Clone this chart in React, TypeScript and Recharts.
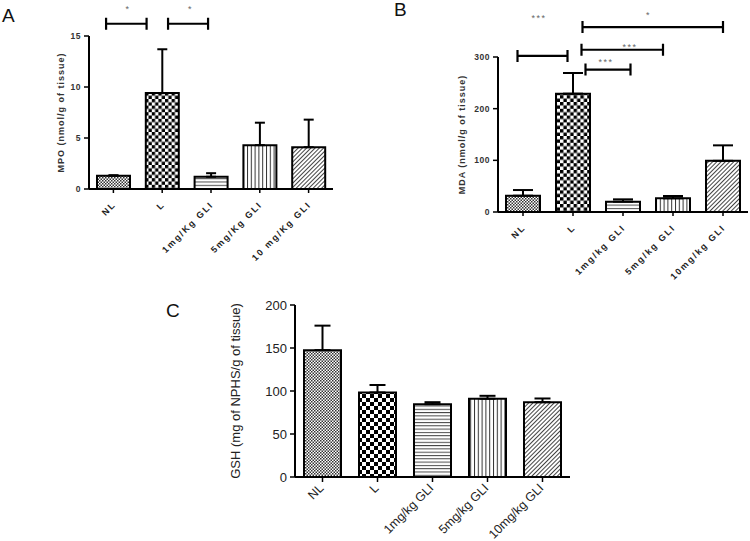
import React from "react";
import {
  BarChart,
  Bar,
  XAxis,
  YAxis,
  ErrorBar,
  Cell,
  ReferenceLine,
  ReferenceDot,
  Label,
} from "recharts";

// A - MPO
const mpoGroups = ["NL", "L", "1mg/Kg GLI", "5mg/Kg GLI", "10 mg/Kg GLI"];
const mpoMean = [1.3, 9.4, 1.2, 4.3, 4.1];
const mpoErr = [0.05, 4.3, 0.35, 2.2, 2.7];
const mpoTicks = [0, 5, 10, 15];

// B - MDA
const mdaGroups = ["NL", "L", "1mg/kg GLI", "5mg/kg GLI", "10mg/kg GLI"];
const mdaMean = [31.5, 229, 20, 26.5, 99];
const mdaErr = [11, 40, 4.5, 4.5, 30];
const mdaTicks = [0, 100, 200, 300];

// C - GSH
const gshGroups = ["NL", "L", "1mg/kg GLI", "5mg/kg GLI", "10mg/kg GLI"];
const gshMean = [147.5, 98.3, 84.7, 91, 87];
const gshErr = [28.5, 8.7, 2.3, 3.4, 4.3];
const gshTicks = [0, 50, 100, 150, 200];

// significance brackets, x in group-index units
const mpoBrackets = [
  { from: -0.15, to: 0.68, y: 16.2 },
  { from: 1.12, to: 1.94, y: 16.2 },
];
const mpoStars = [
  { x: 0.3, y: 17.4, text: "*" },
  { x: 1.58, y: 17.4, text: "*" },
];
const mdaBrackets = [
  { from: -0.11, to: 0.89, y: 302 },
  { from: 1.19, to: 4.0, y: 358 },
  { from: 1.17, to: 2.8, y: 314 },
  { from: 1.25, to: 2.15, y: 275.6 },
];
const mdaStars = [
  { x: 0.32, y: 369, text: "***" },
  { x: 2.51, y: 376, text: "*" },
  { x: 2.14, y: 313, text: "***" },
  { x: 1.66, y: 284, text: "***" },
];

const fills = ["dots", "checker", "hlines", "vlines", "diag"];
const FONT = "Arial, 'Liberation Sans', sans-serif";

type Bracket = { from: number; to: number; y: number };
type Star = { x: number; y: number; text: string };

type PanelProps = {
  id: string;
  groups: string[];
  mean: number[];
  err: number[];
  yTicks: number[];
  yTitle: string;
  width: number;
  height: number;
  margin: { top: number; right: number; bottom: number; left: number };
  yWidth: number;
  xHeight: number;
  titleDx: number;
  barSize: number;
  cap: number;
  big?: boolean;
  checker: number;
  brackets?: Bracket[];
  stars?: Star[];
};

function Panel(p: PanelProps) {
  const data = p.groups.map((g, i) => ({ idx: i, group: g, mean: p.mean[i], err: [0, p.err[i]] }));
  const xFont = p.big
    ? { fontSize: 12.5, fontWeight: 400, fill: "#222", letterSpacing: 0 }
    : { fontSize: 9, fontWeight: 700, fill: "#222", letterSpacing: 1.8 };
  const yFont = p.big
    ? { fontSize: 13, fontWeight: 400, fill: "#222" }
    : { fontSize: 8.5, fontWeight: 700, fill: "#333", letterSpacing: 0.5 };
  const c = p.checker;

  const slantTick = (props: any) => {
    const { x, y, payload } = props;
    return (
      <g transform={`translate(${x + (p.big ? -1 : 1)},${y + (p.big ? 2 : 8)})`}>
        <text transform="rotate(-45)" textAnchor="end" dominantBaseline="central" fontFamily={FONT} {...xFont}>
          {payload.value}
        </text>
      </g>
    );
  };

  const yTitle = (lp: any) => {
    const vb = lp.viewBox;
    const cx = vb.x + vb.width / 2 + p.titleDx;
    const cy = vb.y + vb.height / 2;
    return (
      <text
        x={cx}
        y={cy}
        transform={`rotate(-90 ${cx} ${cy})`}
        textAnchor="middle"
        dominantBaseline="central"
        fontFamily={FONT}
        fontSize={p.big ? 13 : 9}
        fontWeight={p.big ? 400 : 700}
        letterSpacing={p.big ? 0 : 1}
        fill={p.big ? "#222" : "#333"}
      >
        {p.yTitle}
      </text>
    );
  };

  return (
    <BarChart width={p.width} height={p.height} data={data} margin={p.margin}>
      <defs>
        <pattern id={`${p.id}-dots`} width={3} height={3} patternUnits="userSpaceOnUse">
          <rect width={3} height={3} fill="#fff" />
          <rect width={1.5} height={1.5} fill="#333" />
          <rect x={1.5} y={1.5} width={1.5} height={1.5} fill="#333" />
        </pattern>
        <pattern id={`${p.id}-checker`} width={c * 2} height={c * 2} patternUnits="userSpaceOnUse">
          <rect width={c * 2} height={c * 2} fill="#fff" />
          <rect width={c} height={c} fill="#000" />
          <rect x={c} y={c} width={c} height={c} fill="#000" />
        </pattern>
        <pattern id={`${p.id}-hlines`} width={4} height={3.3} patternUnits="userSpaceOnUse">
          <rect width={4} height={3.3} fill="#fff" />
          <rect width={4} height={1} fill="#444" />
        </pattern>
        <pattern id={`${p.id}-vlines`} width={3.8} height={4} patternUnits="userSpaceOnUse">
          <rect width={3.8} height={4} fill="#fff" />
          <rect width={1} height={4} fill="#333" />
        </pattern>
        <pattern id={`${p.id}-diag`} width={3} height={3} patternUnits="userSpaceOnUse" patternTransform="rotate(45)">
          <rect width={3} height={3} fill="#fff" />
          <rect width={1} height={3} fill="#444" />
        </pattern>
      </defs>
      <XAxis
        dataKey="group"
        type="category"
        height={p.xHeight}
        interval={0}
        tick={slantTick}
        tickSize={p.big ? 5 : 4}
        tickMargin={2}
        tickLine={{ stroke: "#000", strokeWidth: 1.5 }}
        axisLine={{ stroke: "#000", strokeWidth: 2 }}
      />
      <XAxis xAxisId="ann" dataKey="idx" type="number" domain={[-0.5, 4.5]} allowDataOverflow hide />
      <YAxis
        domain={[0, p.yTicks[p.yTicks.length - 1]]}
        ticks={p.yTicks}
        width={p.yWidth}
        tickSize={5}
        tickMargin={3}
        tick={{ ...yFont, fontFamily: FONT }}
        tickLine={{ stroke: "#000", strokeWidth: 1.5 }}
        axisLine={{ stroke: "#000", strokeWidth: 2 }}
      >
        <Label content={yTitle} />
      </YAxis>
      <Bar dataKey="mean" barSize={p.barSize} stroke="#000" strokeWidth={2} isAnimationActive={false}>
        {data.map((d, i) => (
          <Cell key={d.group} fill={`url(#${p.id}-${fills[i]})`} />
        ))}
        <ErrorBar dataKey="err" direction="y" width={p.cap} stroke="#000" strokeWidth={2} isAnimationActive={false} />
      </Bar>
      {(p.brackets || []).map((b, i) => (
        <ReferenceLine
          key={`br${i}`}
          xAxisId="ann"
          ifOverflow="visible"
          segment={[
            { x: b.from, y: b.y },
            { x: b.to, y: b.y },
          ]}
          shape={(s: any) => (
            <path
              d={`M${s.x1},${s.y1 - 6}V${s.y1 + 6}M${s.x1},${s.y1}H${s.x2}M${s.x2},${s.y2 - 6}V${s.y2 + 6}`}
              stroke="#000"
              strokeWidth={2.2}
              fill="none"
            />
          )}
        />
      ))}
      {(p.stars || []).map((s, i) => (
        <ReferenceDot
          key={`st${i}`}
          xAxisId="ann"
          x={s.x}
          y={s.y}
          r={0}
          ifOverflow="visible"
          shape={(d: any) => (
            <text x={d.cx} y={d.cy} textAnchor="middle" fontFamily={FONT} fontSize={9} letterSpacing={1.5} fill="#666">
              {s.text}
            </text>
          )}
        />
      ))}
    </BarChart>
  );
}

const letter: React.CSSProperties = {
  position: "absolute",
  fontFamily: FONT,
  fontSize: 19,
  lineHeight: 1,
  color: "#111",
};

export default function App() {
  return (
    <div
      style={{
        position: "absolute",
        left: 0,
        top: 0,
        width: 750,
        height: 541,
        background: "#fff",
        overflow: "hidden",
      }}
    >
      <div style={{ position: "absolute", left: 0, top: 0 }}>
        <Panel
          id="pa"
          groups={mpoGroups}
          mean={mpoMean}
          err={mpoErr}
          yTicks={mpoTicks}
          yTitle="MPO (nmol/g of tissue)"
          width={360}
          height={300}
          margin={{ top: 36, right: 27, bottom: 21, left: 49 }}
          yWidth={40}
          xHeight={90}
          titleDx={-8}
          barSize={33}
          cap={5}
          checker={3.3}
          brackets={mpoBrackets}
          stars={mpoStars}
        />
      </div>
      <div style={{ position: "absolute", left: 390, top: 0 }}>
        <Panel
          id="pb"
          groups={mdaGroups}
          mean={mdaMean}
          err={mdaErr}
          yTicks={mdaTicks}
          yTitle="MDA (nmol/g of tissue)"
          width={360}
          height={330}
          margin={{ top: 57, right: 2, bottom: 23, left: 68 }}
          yWidth={40}
          xHeight={95}
          titleDx={-16}
          barSize={34}
          cap={10}
          checker={3.4}
          brackets={mdaBrackets}
          stars={mdaStars}
        />
      </div>
      <div style={{ position: "absolute", left: 170, top: 290 }}>
        <Panel
          id="pc"
          groups={gshGroups}
          mean={gshMean}
          err={gshErr}
          yTicks={gshTicks}
          yTitle="GSH (mg of NPHS/g of tissue)"
          width={420}
          height={251}
          margin={{ top: 15, right: 20, bottom: 4, left: 75 }}
          yWidth={50}
          xHeight={60}
          titleDx={-35}
          barSize={37}
          cap={8}
          checker={4}
          big
        />
      </div>
      <div style={{ ...letter, left: 2, top: 6 }}>A</div>
      <div style={{ ...letter, left: 394, top: 0 }}>B</div>
      <div style={{ ...letter, left: 166, top: 301 }}>C</div>
    </div>
  );
}
